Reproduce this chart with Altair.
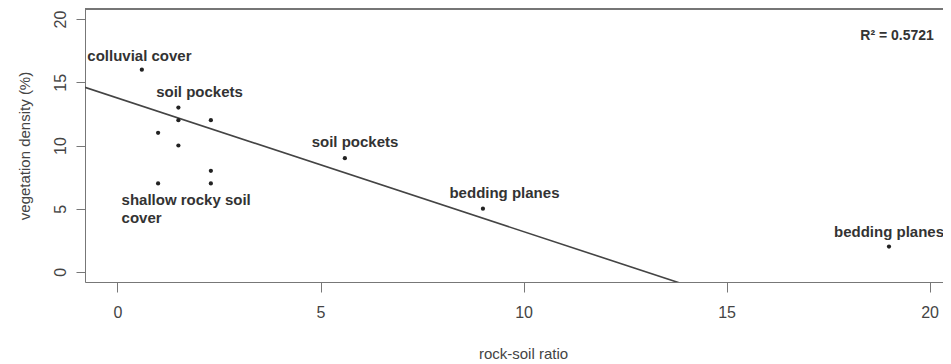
import altair as alt
import pandas as pd

# data points
pt_x = [0.6, 1.5, 1.5, 2.3, 1.0, 1.5, 2.3, 1.0, 2.3, 5.6, 9.0, 19.0]
pt_y = [16, 13, 12, 12, 11, 10, 8, 7, 7, 9, 5, 2]

# fitted line (end points)
line_x = [-0.8, 13.84]
line_y = [14.6, -0.87]

# annotation labels (centre positions in data units)
lab_text = ["colluvial cover", "soil pockets", "soil pockets", "bedding planes", "bedding planes"]
lab_x = [0.54, 2.02, 5.85, 9.53, 19.0]
lab_y = [17.06, 14.2, 10.3, 6.27, 3.17]

shallow_text = ["shallow rocky soil", "cover"]
shallow_x = [0.1]
shallow_y = [5.71]

r2_text = ["R² = 0.5721"]
r2_x = [19.2]
r2_y = [18.7]

x_ticks = [0, 5, 10, 15, 20]
y_ticks = [0, 5, 10, 15, 20]

X_DOMAIN = [-0.8, 20.33]
Y_DOMAIN = [-0.8, 20.8]
W, H = 858, 273
FONT = "Liberation Sans"

pts = pd.DataFrame({"x": pt_x, "y": pt_y})
ln = pd.DataFrame({"x": line_x, "y": line_y})
labs = pd.DataFrame({"t": lab_text, "x": lab_x, "y": lab_y})
shallow = pd.DataFrame({"t": [shallow_text], "x": shallow_x, "y": shallow_y})
r2 = pd.DataFrame({"t": r2_text, "x": r2_x, "y": r2_y})

xs = alt.Scale(domain=X_DOMAIN, nice=False, zero=False)
ys = alt.Scale(domain=Y_DOMAIN, nice=False, zero=False)

x_axis = alt.Axis(values=x_ticks, title="rock-soil ratio", grid=False,
                  domainColor="#777777", tickColor="#777777", tickSize=10,
                  labelFontSize=16, labelColor="#444444", labelPadding=12,
                  labelFont=FONT, titleFont=FONT, titleFontSize=15,
                  titleFontWeight="normal", titleColor="#444444",
                  titlePadding=26, titleX=438)
y_axis = alt.Axis(values=y_ticks, title="vegetation density (%)", grid=False,
                  domainColor="#777777", tickColor="#777777", tickSize=9,
                  labelFontSize=16, labelColor="#444444", labelAngle=270,
                  labelAlign="center", labelBaseline="bottom", labelPadding=8,
                  labelFont=FONT, titleFont=FONT, titleFontSize=15,
                  titleFontWeight="normal", titleColor="#444444",
                  titlePadding=20)

points = alt.Chart(pts).mark_point(filled=True, shape="circle", size=18,
                                   color="#222222", opacity=1).encode(
    x=alt.X("x:Q", scale=xs, axis=x_axis),
    y=alt.Y("y:Q", scale=ys, axis=y_axis),
)

fit = alt.Chart(ln).mark_line(color="#444444", strokeWidth=1.6, clip=True).encode(
    x=alt.X("x:Q", scale=xs),
    y=alt.Y("y:Q", scale=ys),
)

labels = alt.Chart(labs).mark_text(font=FONT, fontSize=15, fontWeight="bold",
                                   color="#333333", align="center",
                                   baseline="middle").encode(
    x=alt.X("x:Q", scale=xs), y=alt.Y("y:Q", scale=ys), text="t:N")

shallow_lab = alt.Chart(shallow).mark_text(font=FONT, fontSize=15, fontWeight="bold",
                                           color="#333333", align="left",
                                           baseline="middle", lineHeight=18).encode(
    x=alt.X("x:Q", scale=xs), y=alt.Y("y:Q", scale=ys), text="t")

r2_lab = alt.Chart(r2).mark_text(font=FONT, fontSize=14, fontWeight="bold",
                                 color="#333333", align="center",
                                 baseline="middle").encode(
    x=alt.X("x:Q", scale=xs), y=alt.Y("y:Q", scale=ys), text="t:N")

top_border = alt.Chart(pts).mark_rule(color="#777777", strokeWidth=1).encode(
    x=alt.value(0), x2=alt.value(W), y=alt.value(0))

chart = alt.layer(fit, points, labels, shallow_lab, r2_lab, top_border).properties(
    width=W, height=H,
    autosize=alt.AutoSizeParams(type="none"),
    padding={"left": 77, "top": 1, "right": 0, "bottom": 80},
).configure_view(stroke=None).configure(background="white")

chart.save("out.html", embed_options={"renderer": "svg", "actions": False})
